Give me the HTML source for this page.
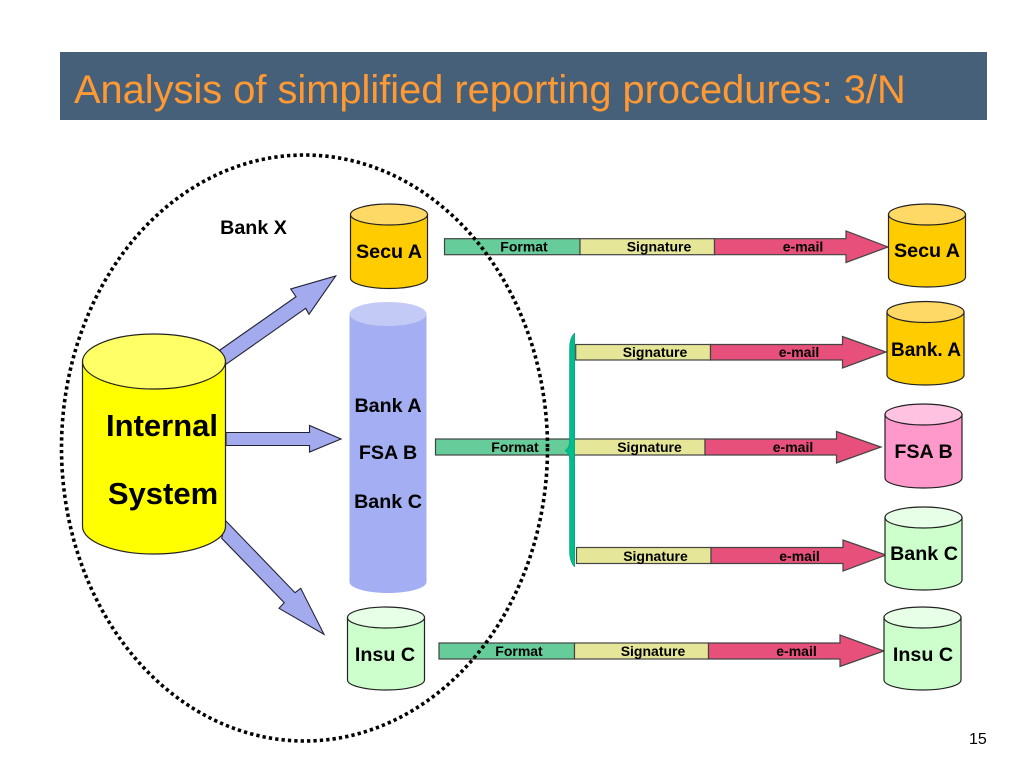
<!DOCTYPE html>
<html><head><meta charset="utf-8"><style>
html,body{margin:0;padding:0;background:#fff}
svg{display:block}
text{font-family:"Liberation Sans",Arial,sans-serif;fill:#000}
.b{font-weight:bold;text-anchor:middle}
.l{font-size:19.7px}
.s{font-size:14px}
.c{stroke:#222;stroke-width:1.2}
.bar{stroke:#444;stroke-width:1.2}
.f{fill:#66cc99}.g{fill:#e6e699}.m{fill:#e6507a}
.ar{fill:#a3aaee;stroke:#223;stroke-width:1.1}
</style></head><body>
<svg width="1024" height="768" viewBox="0 0 1024 768" xmlns="http://www.w3.org/2000/svg">
<rect width="1024" height="768" fill="#fff"/>
<rect x="60" y="52" width="927" height="68" fill="#466079"/>
<text x="74" y="103" font-size="39.8" style="fill:#ff9933">Analysis of simplified reporting procedures: 3/N</text>

<!-- Blue arrows -->
<polygon class="ar" points="220,350 296,296.700 290.700,289 335.700,276 309,314.300 305.700,308.300 226,364.300"/>
<polygon class="ar" points="226,432.500 309.500,432.500 309.500,425.500 341,439 309.500,452 309.500,445.500 226,445.500"/>
<polygon class="ar" points="225.700,520.700 295,592.700 300.700,588.300 324,634.300 279,608.300 284.300,602.700 221.700,538.300"/>

<!-- Internal cylinder -->
<path class="c" fill="#ffff00" d="M82.500,361.500V526.500C82.500,541.700 114.500,554 154,554S225.500,541.700 225.500,526.500V361.500Z"/>
<ellipse class="c" cx="154" cy="361.500" rx="71.500" ry="27.500" fill="#ffff66"/>
<text class="b" x="162" y="436" font-size="31">Internal</text>
<text class="b" x="163" y="504" font-size="31">System</text>

<!-- Secu A left -->
<path class="c" fill="#ffcc00" d="M350.500,214.500V278C350.500,283.800 367.700,288.500 389,288.500S427.500,283.800 427.500,278V214.500Z"/>
<ellipse class="c" cx="389" cy="214.500" rx="38.500" ry="10.500" fill="#ffd966"/>
<text class="b l" x="389" y="258">Secu A</text>

<!-- Blue tall cylinder -->
<path fill="#a3aff2" d="M349.500,314V582C349.500,588 366.700,593 388,593S426.500,588 426.500,582V314Z"/>
<ellipse cx="388" cy="314" rx="38.500" ry="12" fill="#c3caf6"/>
<text class="b l" x="388" y="412">Bank A</text>
<text class="b l" x="388" y="459">FSA B</text>
<text class="b l" x="388" y="508">Bank C</text>

<!-- Insu C left -->
<path class="c" fill="#ccffcc" d="M347.500,617.500V680C347.500,685.500 365,690 386,690S424.500,685.500 424.500,680V617.500Z"/>
<ellipse class="c" cx="386" cy="617.500" rx="38.500" ry="10.500" fill="#e6ffe6"/>
<text class="b l" x="385" y="661">Insu C</text>

<text class="b" x="253.500" y="234" font-size="19.700">Bank X</text>

<!-- Row 1 -->
<rect class="bar f" x="444.500" y="238.700" width="135.500" height="16"/>
<rect class="bar g" x="580" y="238.700" width="134.500" height="16"/>
<polygon class="bar m" points="714.500,238.700 846,238.700 846,231 888,247 846,262.500 846,254.700 714.500,254.700"/>
<text class="b s" x="524" y="251.500">Format</text>
<text class="b s" x="659" y="251.500">Signature</text>
<text class="b s" x="803" y="251.500">e-mail</text>

<!-- Row 2 -->
<rect class="bar g" x="575.700" y="344.500" width="134.800" height="15.500"/>
<polygon class="bar m" points="710.500,344.500 842.500,344.500 842.500,336.500 886,352 842.500,368 842.500,360 710.500,360"/>
<text class="b s" x="655" y="357">Signature</text>
<text class="b s" x="799" y="357">e-mail</text>

<!-- Row 3 -->
<rect class="bar f" x="435.500" y="439" width="135" height="16"/>
<rect class="bar g" x="570.500" y="439" width="134.500" height="16"/>
<polygon class="bar m" points="705,439 836.500,439 836.500,431.500 881,447 836.500,463 836.500,455 705,455"/>
<text class="b s" x="515" y="452">Format</text>
<text class="b s" x="649.500" y="452">Signature</text>
<text class="b s" x="793" y="452">e-mail</text>

<!-- Row 4 -->
<rect class="bar g" x="576.500" y="547.500" width="134.500" height="16"/>
<polygon class="bar m" points="711,547.500 843,547.500 843,540 886,555 843,571 843,563.500 711,563.500"/>
<text class="b s" x="655.500" y="561">Signature</text>
<text class="b s" x="799.500" y="561">e-mail</text>

<!-- Row 5 -->
<rect class="bar f" x="439" y="643" width="135.500" height="16"/>
<rect class="bar g" x="574.500" y="643" width="134" height="16"/>
<polygon class="bar m" points="708.500,643 840,643 840,635 884,651 840,666.500 840,659 708.500,659"/>
<text class="b s" x="519" y="656">Format</text>
<text class="b s" x="653" y="656">Signature</text>
<text class="b s" x="796.500" y="656">e-mail</text>

<!-- Brace -->
<path fill="#00bd8e" stroke="#0a8f70" stroke-width="0.500" d="M574.700,333C571,336 569.500,341 569.500,350V441C569.500,446 568,448 565,450.500C568,453 569.500,455 569.500,460V550C569.500,559 571.500,564 574.700,567Z"/>

<!-- Right cylinders -->
<path class="c" fill="#ffcc00" d="M888.500,214.500V277C888.500,282.500 905.500,287 927,287S965.500,282.500 965.500,277V214.500Z"/>
<ellipse class="c" cx="927" cy="214.500" rx="38.500" ry="10.500" fill="#ffd966"/>
<text class="b l" x="927" y="257">Secu A</text>

<path class="c" fill="#ffcc00" d="M887,312V375C887,380.500 904,385 925.500,385S964,380.500 964,375V312Z"/>
<ellipse class="c" cx="925.500" cy="312" rx="38.500" ry="10.500" fill="#ffd966"/>
<text class="b" x="926" y="356" font-size="19">Bank. A</text>

<path class="c" fill="#ff99cc" d="M885,414.500V478C885,483.500 902,488 923.500,488S962,483.500 962,478V414.500Z"/>
<ellipse class="c" cx="923.500" cy="414.500" rx="38.500" ry="10.500" fill="#ffc2e0"/>
<text class="b l" x="923.500" y="458">FSA B</text>

<path class="c" fill="#ccffcc" d="M885,517.500V580C885,585.500 902,590 923.500,590S962,585.500 962,580V517.500Z"/>
<ellipse class="c" cx="923.500" cy="517.500" rx="38.500" ry="10.500" fill="#e6ffe6"/>
<text class="b l" x="924" y="560">Bank C</text>

<path class="c" fill="#ccffcc" d="M884,617.500V680C884,685.500 901,690 922.500,690S961,685.500 961,680V617.500Z"/>
<ellipse class="c" cx="922.500" cy="617.500" rx="38.500" ry="10.500" fill="#e6ffe6"/>
<text class="b l" x="923" y="661">Insu C</text>

<!-- Dotted ellipse -->
<ellipse cx="304.500" cy="448" rx="243" ry="293" fill="none" stroke="#000" stroke-width="3.600" stroke-dasharray="3.300 3.100"/>

<text x="969" y="744" font-size="16">15</text>
</svg>
</body></html>
